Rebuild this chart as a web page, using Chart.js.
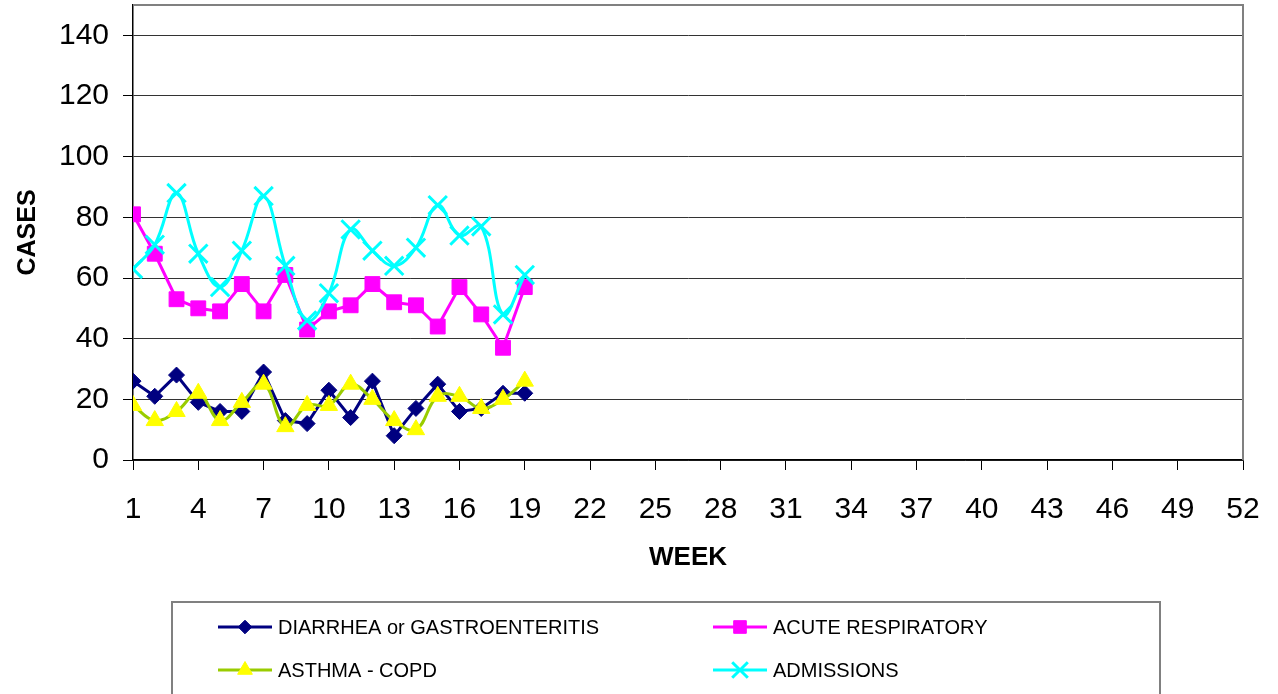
<!DOCTYPE html>
<html lang="en">
<head>
    <title>Weekly Cases</title>
    <meta charset="UTF-8">
    <script src="https://cdn.jsdelivr.net/npm/chart.js"></script>
    <style>
        body { margin: 0; background: #fff; }
    </style>
</head>
<body>
    <canvas id="casesChart" width="1278" height="694"></canvas>

    <script>
        // Values
        const weeks = [1, 2, 3, 4, 5, 6, 7, 8, 9, 10, 11, 12, 13, 14, 15, 16, 17, 18, 19];
        const diarrhea = [26, 21, 28, 19, 16, 16, 29, 13, 12, 23, 14, 26, 8, 17, 25, 16, 17, 22, 22];
        const acuteResp = [81, 68, 53, 50, 49, 58, 49, 61, 43, 49, 51, 58, 52, 51, 44, 57, 48, 37, 57];
        const asthma = [18, 13, 16, 22, 13, 19, 25, 11, 18, 18, 25, 20, 13, 10, 21, 21, 17, 20, 26];
        const admissions = [63, 71, 88, 68, 57, 69, 87, 64, 46, 55, 76, 69, 64, 70, 84, 74, 77, 48, 61];

        const weekTicks = [1, 4, 7, 10, 13, 16, 19, 22, 25, 28, 31, 34, 37, 40, 43, 46, 49, 52];
        const caseTicks = [0, 20, 40, 60, 80, 100, 120, 140];

        const FONT = '"Liberation Sans", Arial, sans-serif';

        const toPoints = values => values.map((v, i) => ({ x: weeks[i], y: v }));

        // Plot frame (top + right) and boxed two-column legend
        const framePlugin = {
            id: 'frame',
            beforeDatasetsDraw(chart) {
                const { ctx, chartArea: a } = chart;
                ctx.save();
                ctx.strokeStyle = '#808080';
                ctx.lineWidth = 2;
                ctx.beginPath();
                ctx.moveTo(a.left, a.top);
                ctx.lineTo(a.right, a.top);
                ctx.lineTo(a.right, a.bottom);
                ctx.stroke();
                ctx.restore();
            },
            afterDraw(chart) {
                const ctx = chart.ctx;
                ctx.save();
                ctx.strokeStyle = '#808080';
                ctx.lineWidth = 2;
                ctx.strokeRect(172, 602, 988, 130);

                chart.data.datasets.forEach((ds, i) => {
                    const x0 = i % 2 ? 713 : 218;
                    const y = Math.floor(i / 2) ? 670 : 627;
                    ctx.strokeStyle = ds.borderColor;
                    ctx.lineWidth = 3;
                    ctx.beginPath();
                    ctx.moveTo(x0, y);
                    ctx.lineTo(x0 + 54, y);
                    ctx.stroke();

                    ctx.fillStyle = ds.pointBackgroundColor;
                    ctx.strokeStyle = ds.pointBorderColor;
                    ctx.lineWidth = ds.pointBorderWidth;
                    Chart.helpers.drawPoint(ctx, {
                        pointStyle: ds.pointStyle,
                        radius: ds.pointRadius * 0.85,
                        rotation: 0,
                        borderWidth: ds.pointBorderWidth
                    }, x0 + 27, y);

                    ctx.fillStyle = '#000';
                    ctx.font = '20px ' + FONT;
                    ctx.textBaseline = 'middle';
                    ctx.textAlign = 'left';
                    ctx.fillText(ds.label, x0 + 60, y + 1);
                });
                ctx.restore();
            }
        };

        const ctx = document.getElementById('casesChart').getContext('2d');
        const casesChart = new Chart(ctx, {
            type: 'line',
            data: {
                datasets: [
                    {
                        label: 'DIARRHEA or GASTROENTERITIS',
                        data: toPoints(diarrhea),
                        borderColor: '#000080',
                        borderWidth: 3,
                        pointStyle: 'rectRot',
                        pointRadius: 8,
                        pointBackgroundColor: '#000080',
                        pointBorderColor: '#000080',
                        pointBorderWidth: 1,
                        tension: 0,
                        order: 3,
                    },
                    {
                        label: 'ACUTE RESPIRATORY',
                        data: toPoints(acuteResp),
                        borderColor: '#FF00FF',
                        borderWidth: 3,
                        pointStyle: 'rect',
                        pointRadius: 10.5,
                        pointBackgroundColor: '#FF00FF',
                        pointBorderColor: '#FF00FF',
                        pointBorderWidth: 1,
                        tension: 0,
                        order: 2,
                    },
                    {
                        label: 'ASTHMA - COPD',
                        data: toPoints(asthma),
                        borderColor: '#99CC00',
                        borderWidth: 3,
                        pointStyle: 'triangle',
                        pointRadius: 10,
                        pointBackgroundColor: '#FFFF00',
                        pointBorderColor: '#FFFF00',
                        pointBorderWidth: 1,
                        tension: 0.4,
                        order: 1,
                    },
                    {
                        label: 'ADMISSIONS',
                        data: toPoints(admissions),
                        borderColor: '#00FFFF',
                        borderWidth: 3,
                        pointStyle: 'crossRot',
                        pointRadius: 13,
                        pointBackgroundColor: '#00FFFF',
                        pointBorderColor: '#00FFFF',
                        pointBorderWidth: 3,
                        tension: 0.4,
                        order: 0,
                    },
                ],
            },
            options: {
                responsive: false,
                animation: false,
                layout: {
                    autoPadding: false,
                    padding: { left: 0, top: 5, right: 35, bottom: 118 },
                },
                plugins: {
                    legend: { display: false },
                    tooltip: { enabled: false },
                },
                scales: {
                    x: {
                        type: 'linear',
                        min: 1,
                        max: 52,
                        afterBuildTicks: scale => {
                            scale.ticks = weekTicks.map(v => ({ value: v }));
                        },
                        afterFit: scale => {
                            scale.height = 116;
                            scale.paddingLeft = 0;
                            scale.paddingRight = 0;
                        },
                        grid: {
                            drawOnChartArea: false,
                            tickLength: 10,
                            tickColor: '#000',
                            tickWidth: 1,
                        },
                        border: { color: '#000', width: 1.5 },
                        ticks: {
                            autoSkip: false,
                            maxRotation: 0,
                            padding: 22,
                            color: '#000',
                            font: { family: FONT, size: 30 },
                        },
                        title: {
                            display: true,
                            text: 'WEEK',
                            color: '#000',
                            font: { family: FONT, size: 26, weight: 'bold' },
                            padding: { top: 0, bottom: 3 },
                        },
                    },
                    y: {
                        min: 0,
                        max: 150,
                        afterBuildTicks: scale => {
                            scale.ticks = caseTicks.map(v => ({ value: v }));
                        },
                        afterFit: scale => {
                            scale.width = 133;
                            scale.paddingTop = 0;
                            scale.paddingBottom = 0;
                        },
                        grid: {
                            color: '#333',
                            lineWidth: 1,
                            tickLength: 10,
                            tickColor: '#000',
                        },
                        border: { color: '#000', width: 1.5 },
                        ticks: {
                            autoSkip: false,
                            padding: 14,
                            color: '#000',
                            font: { family: FONT, size: 30 },
                        },
                        title: {
                            display: true,
                            text: 'CASES',
                            color: '#000',
                            font: { family: FONT, size: 25, weight: 'bold' },
                            padding: { top: 13, bottom: 0 },
                        },
                    },
                },
            },
            plugins: [framePlugin],
        });
    </script>
</body>
</html>
